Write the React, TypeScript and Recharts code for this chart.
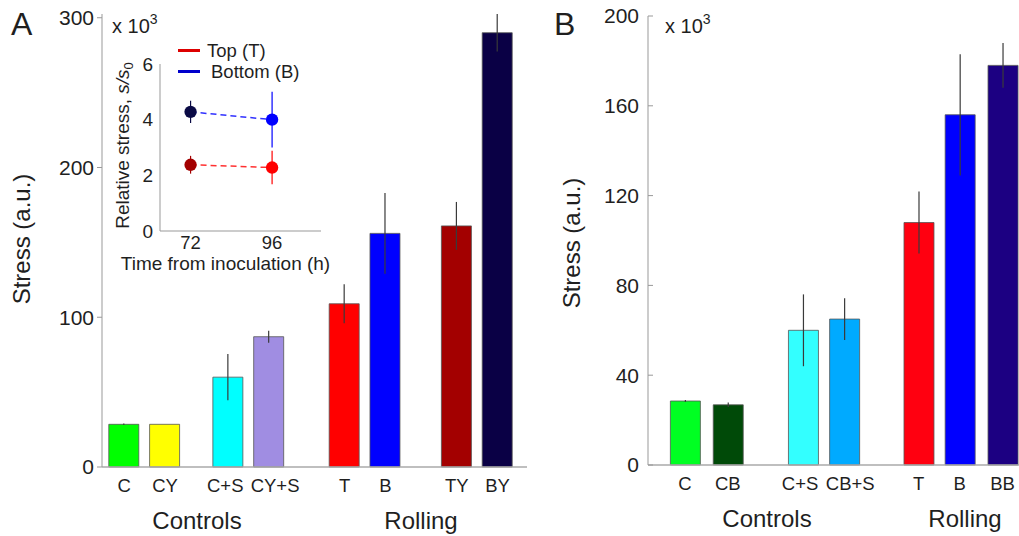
import React from 'react';
import {
  BarChart,
  Bar,
  Cell,
  XAxis,
  YAxis,
  ErrorBar,
  ComposedChart,
  Line,
  Scatter,
  ZAxis,
  Legend,
} from 'recharts';

const FONT = '"Liberation Sans", Arial, Helvetica, sans-serif';
const INK = '#1f1f1f';

// Panel A: stress per condition (x 10^3)
const labelsA = ['C', 'CY', 'C+S', 'CY+S', 'T', 'B', 'TY', 'BY'];
const slotsA = [1, 2, 3.55, 4.55, 6.4, 7.4, 9.15, 10.15];
const stressA = [28.5, 28.5, 60, 87, 109, 156, 161, 290];
const errA = [0.5, 0, 15.5, 4, 13, 27, 16, 12.5];
const colorsA = ['#00ff00', '#ffff00', '#00ffff', '#a08de2', '#ff0000', '#0000ff', '#a30000', '#0a0045'];
const ticksA = [0, 100, 200, 300];

// Panel B
const labelsB = ['C', 'CB', 'C+S', 'CB+S', 'T', 'B', 'BB'];
const slotsB = [1, 2.02, 3.81, 4.79, 6.56, 7.54, 8.56];
const stressB = [28.5, 26.8, 60, 65, 108, 156, 178];
const errB = [0.4, 1, 16, 9.3, 13.8, 27, 10];
const colorsB = ['#00ff22', '#004a08', '#33ffff', '#00aaff', '#ff0010', '#0000ff', '#1c0082'];
const ticksB = [0, 40, 80, 120, 160, 200];

// Inset: relative stress vs time
const hours = [72, 96];
const topRel = [2.38, 2.28];
const topErr = [0.32, 0.6];
const bottomRel = [4.28, 4.0];
const bottomErr = [0.4, 1.0];
const insetTicksY = [0, 2, 4, 6];
const seriesNames = ['Top (T)', 'Bottom (B)'];

// the "+S" labels sit a little apart so they don't run together
const labelNudge = { 'C+S': -3, 'CY+S': 6, 'CB+S': 6 };

function CatTick({ x, y, payload, labels, slots }) {
  const name = labels[slots.indexOf(payload.value)] ?? '';
  return (
    <text x={x + (labelNudge[name] ?? 0)} y={y} dy="0.71em" textAnchor="middle" fontSize={18.5} fill={INK} fontFamily={FONT}>
      {name}
    </text>
  );
}

function StressPanel({ labels, slots, values, errs, colors, yTicks, xDomain, yMax, width, margin, tickSize, tickMargin }) {
  const data = labels.map((name, i) => ({ name, x: slots[i], v: values[i], e: errs[i] }));
  return (
    <BarChart width={width} height={536} data={data} margin={margin}>
      <XAxis
        dataKey="x"
        type="number"
        domain={xDomain}
        ticks={slots}
        interval={0}
        tickLine={false}
        tickSize={0}
        tickMargin={12}
        height={30}
        axisLine={{ stroke: '#aaa', strokeWidth: 1.5 }}
        tick={<CatTick labels={labels} slots={slots} />}
      />
      <YAxis
        type="number"
        domain={[0, yMax]}
        ticks={yTicks}
        interval={0}
        width={50}
        tickSize={tickSize}
        tickMargin={tickMargin}
        axisLine={{ stroke: '#999' }}
        tickLine={{ stroke: '#999' }}
        tick={{ fontSize: 21, fill: INK, fontFamily: FONT }}
      />
      <Bar dataKey="v" barSize={30} stroke="#555" strokeWidth={0.8} isAnimationActive={false}>
        {data.map((d, i) => (
          <Cell key={d.name} fill={colors[i]} />
        ))}
        <ErrorBar dataKey="e" width={0} stroke="#3a3a3a" strokeWidth={1.2} />
      </Bar>
    </BarChart>
  );
}

function InsetYLabel({ viewBox }) {
  const x = viewBox.x - 1;
  const y = viewBox.y + viewBox.height / 2 - 2;
  return (
    <text
      x={x}
      y={y}
      transform={`rotate(-90 ${x} ${y})`}
      textAnchor="middle"
      fontSize={19}
      fill={INK}
      fontFamily={FONT}
    >
      Relative stress, <tspan fontStyle="italic">s/s</tspan>
      <tspan fontSize={13} dy={4}>0</tspan>
    </text>
  );
}

function InsetXLabel({ viewBox }) {
  return (
    <text
      x={viewBox.x + viewBox.width / 2 - 15}
      y={viewBox.y + viewBox.height - 1}
      textAnchor="middle"
      fontSize={19}
      fill={INK}
      fontFamily={FONT}
    >
      Time from inoculation (h)
    </text>
  );
}

function InsetLegend() {
  const swatch = ['#dd0000', '#0000cc'];
  return (
    <div style={{ fontFamily: FONT, fontSize: 18.5, color: INK }}>
      {seriesNames.map((n, i) => (
        <div key={n} style={{ display: 'flex', alignItems: 'center', height: 21, lineHeight: '21px' }}>
          <span style={{ display: 'inline-block', width: 22, height: 3.5, background: swatch[i], marginRight: i === 0 ? 7 : 11 }} />
          {n}
        </div>
      ))}
    </div>
  );
}

function Inset() {
  const top = hours.map((t, i) => ({ t, v: topRel[i], e: topErr[i] }));
  const bottom = hours.map((t, i) => ({ t, v: bottomRel[i], e: bottomErr[i] }));
  const pointColors = {
    top: ['#a30000', '#ff0000'],
    bottom: ['#0a0a45', '#0000ff'],
  };
  return (
    <ComposedChart width={262} height={250} margin={{ top: 34, right: 41, bottom: 9, left: 30 }}>
      <XAxis
        dataKey="t"
        type="number"
        domain={[63, 110.4]}
        ticks={hours}
        interval={0}
        tickLine={false}
        tickSize={0}
        tickMargin={5}
        height={40}
        axisLine={{ stroke: '#999' }}
        tick={{ fontSize: 18.5, fill: INK, fontFamily: FONT }}
        label={<InsetXLabel />}
      />
      <YAxis
        type="number"
        domain={[0, 6]}
        ticks={insetTicksY}
        interval={0}
        width={30}
        tickLine={false}
        tickSize={0}
        tickMargin={7}
        axisLine={{ stroke: '#999' }}
        tick={{ fontSize: 19, fill: INK, fontFamily: FONT }}
        label={<InsetYLabel />}
      />
      <ZAxis range={[120, 120]} />
      <Line data={top} dataKey="v" stroke="#ff3030" strokeWidth={1.5} strokeDasharray="6 4" dot={false} isAnimationActive={false} />
      <Line data={bottom} dataKey="v" stroke="#3030ff" strokeWidth={1.5} strokeDasharray="6 4" dot={false} isAnimationActive={false} />
      {top.map((p, i) => (
        <Scatter key={`t${i}`} data={[p]} dataKey="v" fill={pointColors.top[i]} isAnimationActive={false}>
          <ErrorBar dataKey="e" direction="y" width={0} stroke={pointColors.top[i]} strokeWidth={1.2} />
        </Scatter>
      ))}
      {bottom.map((p, i) => (
        <Scatter key={`b${i}`} data={[p]} dataKey="v" fill={pointColors.bottom[i]} isAnimationActive={false}>
          <ErrorBar dataKey="e" direction="y" width={0} stroke={pointColors.bottom[i]} strokeWidth={1.2} />
        </Scatter>
      ))}
      <Legend
        layout="vertical"
        align="center"
        verticalAlign="middle"
        content={<InsetLegend />}
        wrapperStyle={{ left: 78, top: 10, width: 'auto' }}
      />
    </ComposedChart>
  );
}

export default function App() {
  const txt = { fontFamily: FONT, fill: INK };
  return (
    <div style={{ position: 'absolute', left: 0, top: 0, width: 1019, height: 536, background: '#fff' }}>
      <div style={{ position: 'absolute', left: 0, top: 0 }}>
        <StressPanel
          labels={labelsA}
          slots={slotsA}
          values={stressA}
          errs={errA}
          colors={colorsA}
          yTicks={ticksA}
          xDomain={[0.456, 10.87]}
          yMax={300}
          width={540}
          margin={{ top: 14, right: 13, bottom: 39, left: 52 }}
          tickSize={5}
          tickMargin={3}
        />
      </div>
      <div style={{ position: 'absolute', left: 540, top: 0 }}>
        <StressPanel
          labels={labelsB}
          slots={slotsB}
          values={stressB}
          errs={errB}
          colors={colorsB}
          yTicks={ticksB}
          xDomain={[0.12, 8.95]}
          yMax={200}
          width={479}
          margin={{ top: 16, right: 0, bottom: 41, left: 58 }}
          tickSize={-5}
          tickMargin={14}
        />
      </div>
      <div style={{ position: 'absolute', left: 100, top: 30 }}>
        <Inset />
      </div>
      <svg width={1019} height={536} style={{ position: 'absolute', left: 0, top: 0, pointerEvents: 'none' }}>
        <text x={11} y={35} fontSize={32} {...txt}>A</text>
        <text x={554} y={35} fontSize={32} {...txt}>B</text>
        <text x={112} y={33} fontSize={20} {...txt}>
          x 10<tspan fontSize={14} dy={-9}>3</tspan>
        </text>
        <text x={665} y={33} fontSize={20} {...txt}>
          x 10<tspan fontSize={14} dy={-9}>3</tspan>
        </text>
        <text x={30} y={239} fontSize={24} textAnchor="middle" transform="rotate(-90 30 239)" {...txt}>Stress (a.u.)</text>
        <text x={580} y={243} fontSize={24} textAnchor="middle" transform="rotate(-90 580 243)" {...txt}>Stress (a.u.)</text>
        <text x={197} y={529} fontSize={24} textAnchor="middle" {...txt}>Controls</text>
        <text x={421} y={529} fontSize={24} textAnchor="middle" {...txt}>Rolling</text>
        <text x={767} y={527} fontSize={24} textAnchor="middle" {...txt}>Controls</text>
        <text x={965} y={527} fontSize={24} textAnchor="middle" {...txt}>Rolling</text>
      </svg>
    </div>
  );
}
